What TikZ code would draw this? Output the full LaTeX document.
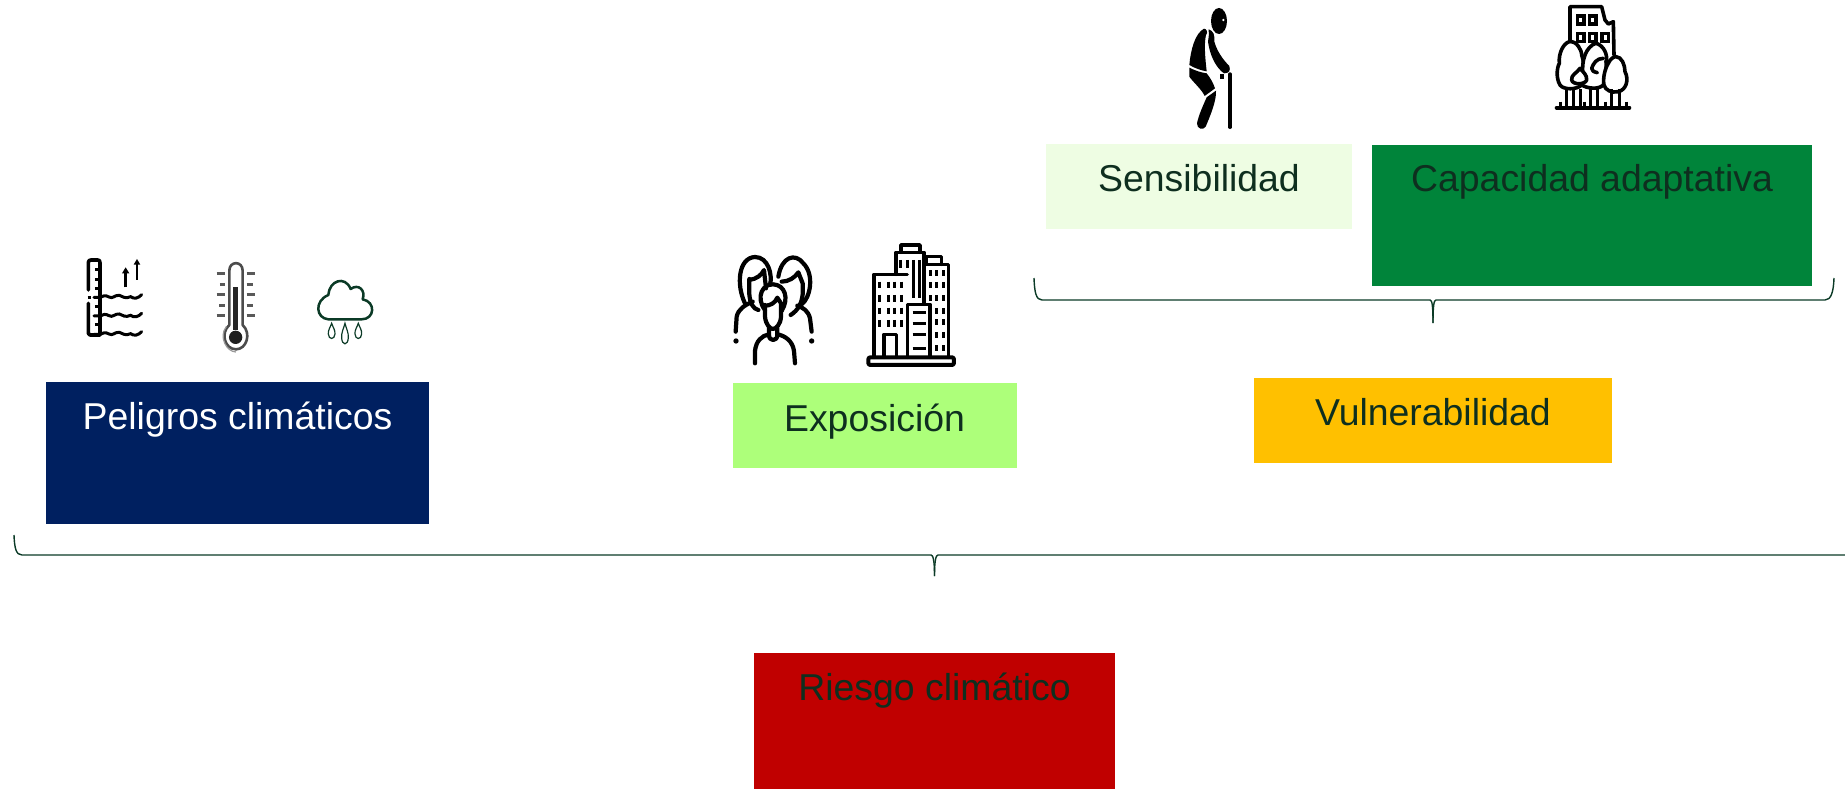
\documentclass[tikz,border=0pt]{standalone}
\usepackage{fontspec}
\setmainfont{Liberation Sans}
\definecolor{txt}{HTML}{0E2F1F}
\definecolor{brc}{HTML}{0B3A26}
\definecolor{navyb}{HTML}{002060}
\definecolor{limeb}{HTML}{ADFF7A}
\definecolor{ambb}{HTML}{FFC000}
\definecolor{paleb}{HTML}{EEFDE3}
\definecolor{greenb}{HTML}{00843A}
\definecolor{redb}{HTML}{C00000}
\tikzset{
  box/.style={draw=none,inner sep=0pt,outer sep=0pt},
  lab/.style={anchor=base,inner sep=0pt,font=\fontsize{37.4}{37.4}\selectfont,text=txt},
  brace/.style={draw=brc,line width=1.4pt,fill=none},
}
\begin{document}
\begin{tikzpicture}[x=1pt,y=-1pt]
\useasboundingbox (0,0) rectangle (1845,789);
% boxes
\node[box,fill=navyb,minimum width=383pt,minimum height=142pt] (peligros) at (237.5,453) {};
\node[box,fill=limeb,minimum width=284pt,minimum height=85pt] (expo) at (875,425.5) {};
\node[box,fill=ambb,minimum width=358pt,minimum height=85pt] (vuln) at (1433,420.5) {};
\node[box,fill=paleb,minimum width=306pt,minimum height=85pt] (sens) at (1199,186.5) {};
\node[box,fill=greenb,minimum width=440pt,minimum height=141pt] (capa) at (1592,215.5) {};
\node[box,fill=redb,minimum width=361pt,minimum height=136pt] (riesgo) at (934.5,721) {};
% labels
\node[lab,text=white] (tp) at (237.5,429) {Peligros climáticos};
\node[lab] (te) at (874.5,431) {Exposición};
\node[lab] (tv) at (1433,425) {Vulnerabilidad};
\node[lab] (ts) at (1199,191) {Sensibilidad};
\node[lab] (tc) at (1592,191) {Capacidad adaptativa};
\node[lab] (tr) at (934.5,700.5) {Riesgo climático};
% braces
\draw[brace] (14,535) .. controls (14.5,548) and (16,555) .. (22,555) -- (931,555) .. controls (933,555) and (934.5,560) .. (934.5,576);
\draw[brace] (934.5,576) .. controls (934.5,560) and (936,555) .. (938,555) -- (1845,555);
\draw[brace] (1034,278) .. controls (1034.5,292) and (1036,300) .. (1042,300) -- (1430,300) .. controls (1432,300) and (1433,305) .. (1433,323);
\draw[brace] (1433,323) .. controls (1433,305) and (1434,300) .. (1436,300) -- (1825,300) .. controls (1831,300) and (1833.5,292) .. (1834,278);

% ---- hazard icons
\begin{scope}[shift={(60,240)},x=.3333pt,y=-.3333pt]
% ruler
\draw[black,line width=3.6pt,line join=round,line cap=round] (85,150) -- (85,68) .. controls (85,62) and (88,60) .. (93,60) -- (113,60) .. controls (118,60) and (120,62) .. (120,68) -- (120,285) -- (90,285) .. controls (87,285) and (85,283) .. (85,280) -- (85,190);
\foreach \yy in {90,118,145,200,255} \draw[line width=3pt,black] (105,\yy) -- (120,\yy);
\draw[line width=3pt,black] (83,174) -- (92,174);
\foreach \yy in {172,228,283}{
  \draw[line width=3pt,black,line cap=round] (102,\yy) -- (120,\yy) .. controls (130,\yy-4) and (135,\yy-8) .. (147,\yy-1) .. controls (158,\yy+6) and (165,\yy-8) .. (178,\yy-6) .. controls (188,\yy-3) and (195,\yy+6) .. (212,\yy-2) .. controls (222,\yy+6) and (235,\yy+3) .. (245,\yy-8);
}
\draw[line width=2.6pt,black] (197,142) -- (197,95);
\fill[black] (197,82) -- (208,100) -- (186,100) -- cycle;
\draw[line width=2.2pt,black] (231,120) -- (231,70);
\fill[black] (231,57) -- (241,74) -- (221,74) -- cycle;
% thermometer
\draw[line width=2.6pt,black!70,line join=round] (508,255) -- (508,92) .. controls (508,62) and (548,62) .. (548,92) -- (548,255) .. controls (575,280) and (560,328) .. (528,328) .. controls (495,328) and (480,280) .. (508,255) -- cycle;
\fill[black!85] (519,140) rectangle (535,270);
\fill[black!88] (527,292) circle[radius=20];
\draw[line width=1.2pt,black!40] (499,260) .. controls (475,290) and (500,336) .. (528,336);
\foreach \yy/\l/\r in {102/470/585,135/480/580,165/470/585,197/478/580,228/470/585}{
  \draw[line width=3pt,black!65] (\l,\yy) -- (495,\yy);
  \draw[line width=3pt,black!65] (560,\yy) -- (\r,\yy);
}
% cloud
\draw[line width=2.5pt,brc,line join=round] (805,238) .. controls (768,235) and (762,183) .. (805,165) .. controls (808,122) and (855,105) .. (872,147) .. controls (895,130) and (918,150) .. (908,178) .. controls (948,185) and (945,238) .. (905,238) -- cycle;
\foreach \xx/\yy/\ss in {815/250/1,855/250/1.35,895/250/1}{
  \draw[line width=1.2pt,brc] (\xx,\yy) .. controls (\xx+4,\yy+12*\ss) and (\xx+11,\yy+20*\ss) .. (\xx+10,\yy+32*\ss) .. controls (\xx+9,\yy+50*\ss) and (\xx-9,\yy+50*\ss) .. (\xx-10,\yy+32*\ss) .. controls (\xx-11,\yy+20*\ss) and (\xx-4,\yy+12*\ss) .. (\xx,\yy) -- cycle;
}
\end{scope}

% ---- people
\begin{scope}[shift={(720,235)},x=.3333pt,y=-.3333pt]
\tikzset{pp/.style={line width=4.2pt,line cap=round,line join=round,draw=black,fill=none}}
% left back person
\draw[pp] (75,205) .. controls (48,150) and (55,68) .. (105,66) .. controls (145,66) and (158,120) .. (150,150);
\draw[pp] (88,132) -- (88,178) .. controls (90,205) and (100,222) .. (115,225);
\draw[pp] (88,135) .. controls (110,132) and (125,120) .. (132,105) -- (138,160);
\draw[pp] (47,290) -- (50,245) .. controls (55,222) and (75,210) .. (98,200);
% right back person
\draw[pp] (175,125) .. controls (185,65) and (225,52) .. (250,85) .. controls (285,120) and (270,190) .. (245,208);
\draw[pp] (185,140) .. controls (205,140) and (225,128) .. (235,112) -- (248,145) -- (248,178) .. controls (245,205) and (235,225) .. (212,240);
\draw[pp] (275,290) -- (270,250) .. controls (265,228) and (250,218) .. (232,212);
% front person
\draw[pp] (135,225) .. controls (105,185) and (130,145) .. (160,148) .. controls (195,150) and (208,190) .. (185,228);
\draw[pp] (135,210) -- (135,245) .. controls (137,268) and (150,282) .. (158,282) .. controls (168,282) and (182,268) .. (183,245) -- (183,205) -- (172,188) .. controls (165,205) and (150,212) .. (135,212);
\draw[pp] (147,280) -- (147,300) .. controls (147,320) and (172,320) .. (172,300) -- (172,280);
\draw[pp] (105,385) -- (105,348) .. controls (108,318) and (125,302) .. (147,298);
\draw[pp] (225,385) -- (222,348) .. controls (218,318) and (195,302) .. (172,298);
\fill[black] (48,318) circle[radius=8];
\fill[black] (275,318) circle[radius=8];
\end{scope}

% ---- buildings
\begin{scope}[shift={(720,235)},x=.3333pt,y=-.3333pt]
\tikzset{bb/.style={line width=3.4pt,line join=round,line cap=round,draw=black,fill=none}}
\draw[bb,line width=4pt,rounded corners=2pt] (445,367) rectangle (702,390);
\draw[bb] (462,367) -- (462,118) -- (562,118);
\draw[bb] (492,367) -- (492,298) -- (530,298) -- (530,367);
\draw[bb] (562,367) -- (562,208) -- (630,208) -- (630,367);
\draw[bb] (528,118) -- (528,52) -- (612,52) -- (612,208);
\draw[bb] (543,52) -- (543,30) -- (600,30) -- (600,52);
\draw[bb] (612,88) -- (685,88) -- (685,367);
\draw[bb] (618,88) -- (618,65) -- (665,65) -- (665,88);
\foreach \xx in {480,505,525,545}\foreach \yy in {150,190,228,265}
  \draw[line width=3pt,black] (\xx,\yy-10) -- (\xx,\yy+10);
\foreach \yy in {232,265,298,340}
  \draw[line width=3pt,black] (578,\yy) -- (618,\yy);
\draw[line width=3pt,black] (542,75) -- (542,100);
\draw[line width=3pt,black] (562,75) -- (562,100);
\draw[line width=3pt,black] (580,75) -- (580,190);
\draw[line width=3pt,black] (600,75) -- (600,190);
\foreach \xx in {632,650,670}\foreach \yy in {115,150,190,228,262,300,340}
  \draw[line width=3pt,black] (\xx,\yy-9) -- (\xx,\yy+9);
\end{scope}

% ---- old man
\begin{scope}[shift={(1160,0)},x=.3333pt,y=-.3333pt]
\fill[black] (177,63) ellipse[x radius=24,y radius=39];
\fill[white] (190,60) circle[radius=4];
\fill[black] (132,86) .. controls (105,100) and (92,150) .. (88,195) .. controls (105,205) and (125,212) .. (140,214) .. controls (135,170) and (132,130) .. (138,105) .. controls (145,98) and (140,86) .. (132,86) -- cycle;
\fill[black] (146,88) .. controls (160,92) and (165,105) .. (163,125) .. controls (170,150) and (185,175) .. (208,198) .. controls (212,212) and (208,220) .. (192,220) .. controls (170,205) and (150,170) .. (144,125) .. controls (146,110) and (148,100) .. (146,88) -- cycle;
\fill[black] (88,203) .. controls (105,212) and (125,218) .. (140,220) .. controls (152,235) and (160,250) .. (165,265) .. controls (152,275) and (142,282) .. (134,288) .. controls (125,268) and (98,245) .. (88,230) -- cycle;
\fill[black] (140,292) -- (168,272) .. controls (170,300) and (152,345) .. (137,380) .. controls (130,392) and (110,387) .. (111,370) .. controls (116,345) and (130,315) .. (140,292) -- cycle;
\draw[black,line width=3.4pt,line cap=round] (210,222) -- (210,382);
\fill[black] (181,222) rectangle (191,236);
\end{scope}

% ---- building with trees
\begin{scope}[shift={(1540,0)},x=.3333pt,y=-.3333pt]
\tikzset{tt/.style={line width=3.6pt,line join=round,line cap=round,draw=black,fill=none}}
\draw[tt] (90,125) -- (90,20) -- (185,20) -- (195,60) -- (205,72) -- (220,65) -- (222,165);
\foreach \xx/\yy in {112/48,148/48,112/100,148/100,186/100}
  \draw[line width=3.2pt,black] (\xx,\yy) rectangle (\xx+20,\yy+24);
\draw[tt,fill=white] (88,125) .. controls (110,122) and (125,150) .. (125,165) .. controls (135,195) and (135,235) .. (125,255) .. controls (110,270) and (70,270) .. (60,255) .. controls (48,235) and (50,205) .. (58,190) .. controls (55,160) and (70,130) .. (88,125) -- cycle;
\draw[tt,fill=white] (168,130) .. controls (190,135) and (205,165) .. (198,185) .. controls (200,205) and (195,235) .. (190,255) .. controls (175,270) and (140,265) .. (125,255) .. controls (135,235) and (120,205) .. (135,165) .. controls (140,150) and (155,132) .. (168,130) -- cycle;
\draw[tt,fill=white] (228,170) .. controls (245,170) and (255,195) .. (255,215) .. controls (268,240) and (258,270) .. (235,275) .. controls (215,280) and (195,270) .. (192,255) .. controls (188,235) and (195,205) .. (205,190) .. controls (210,178) and (220,170) .. (228,170) -- cycle;
\draw[tt,fill=white] (120,205) .. controls (112,218) and (92,225) .. (95,240) .. controls (98,255) and (135,255) .. (140,240) .. controls (142,225) and (128,215) .. (120,205) -- cycle;
\draw[tt] (190,175) .. controls (170,175) and (160,190) .. (155,205) .. controls (155,212) and (160,215) .. (172,218);
\foreach \xx in {78,100,122,150,172,215,238}
  \draw[line width=3pt,black] (\xx,268) -- (\xx,322);
\foreach \xx in {62,133,195,258}
  \draw[line width=3pt,black] (\xx,305) -- (\xx,322);
\draw[line width=4pt,black,line cap=round] (50,323) -- (268,323);
\end{scope}
\end{tikzpicture}
\end{document}
